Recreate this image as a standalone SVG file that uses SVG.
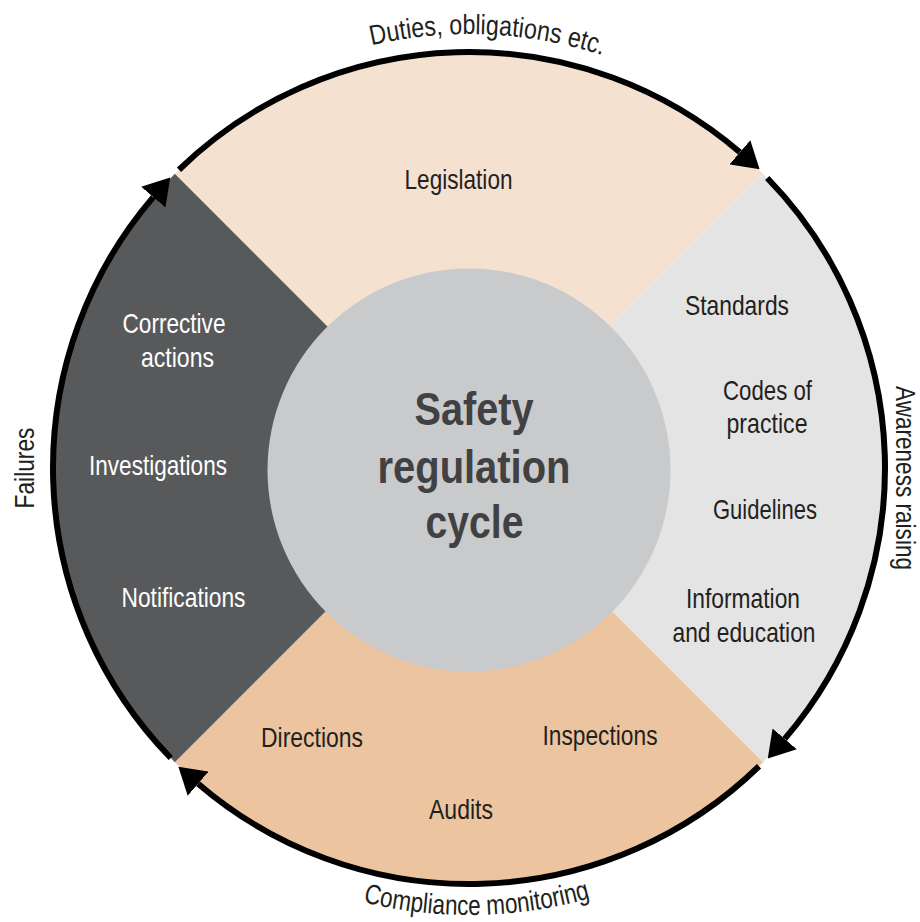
<svg xmlns="http://www.w3.org/2000/svg" width="920" height="922" viewBox="0 0 920 922">
<style>
.t{font-family:"Liberation Sans",Arial,sans-serif;font-size:28px;fill:#231f20;text-anchor:middle}
.w{fill:#ffffff}
.c{font-family:"Liberation Sans",Arial,sans-serif;font-size:47px;font-weight:bold;fill:#414042;text-anchor:middle}
.arc{fill:none;stroke:#000;stroke-width:6;stroke-linecap:butt;marker-end:url(#ah)}
</style>
<defs>
<marker id="ah" markerUnits="userSpaceOnUse" markerWidth="26" markerHeight="32" viewBox="0 0 26 32" refX="0" refY="16" orient="auto">
<path d="M0,0 L26,16 L0,32 Z" fill="#000"/>
</marker>
<path id="topPath" d="M35,468 A434,434 0 0 1 903,468"/>
<path id="botPath" d="M22,468 A447,447 0 0 0 916,468"/>
</defs>
<rect width="920" height="922" fill="#fff"/>

<g id="legislation">
<path d="M469,468 L174.84,173.84 A416,416 0 0 1 763.16,173.84 Z" fill="#f4e1d0"/>
<text class="t" x="458.5" y="189" textLength="108" lengthAdjust="spacingAndGlyphs">Legislation</text>
</g>
<g id="awareness">
<path d="M469,468 L763.16,173.84 A416,416 0 0 1 763.16,762.16 Z" fill="#e4e4e4"/>
<text class="t" x="737" y="315" textLength="104" lengthAdjust="spacingAndGlyphs">Standards</text>
<text class="t" x="767.5" y="400" textLength="89" lengthAdjust="spacingAndGlyphs">Codes of</text>
<text class="t" x="767" y="433" textLength="81" lengthAdjust="spacingAndGlyphs">practice</text>
<text class="t" x="765" y="519" textLength="104" lengthAdjust="spacingAndGlyphs">Guidelines</text>
<text class="t" x="743" y="608" textLength="114" lengthAdjust="spacingAndGlyphs">Information</text>
<text class="t" x="744" y="642" textLength="143" lengthAdjust="spacingAndGlyphs">and education</text>
</g>
<g id="compliance">
<path d="M469,468 L763.16,762.16 A416,416 0 0 1 174.84,762.16 Z" fill="#ecc5a0"/>
<text class="t" x="312" y="747" textLength="102" lengthAdjust="spacingAndGlyphs">Directions</text>
<text class="t" x="600" y="745" textLength="115" lengthAdjust="spacingAndGlyphs">Inspections</text>
<text class="t" x="461" y="819" textLength="64" lengthAdjust="spacingAndGlyphs">Audits</text>
</g>
<g id="failures">
<path d="M469,468 L174.84,762.16 A416,416 0 0 1 174.84,173.84 Z" fill="#58595b"/>
<text class="t w" x="174" y="333" textLength="103" lengthAdjust="spacingAndGlyphs">Corrective</text>
<text class="t w" x="177.5" y="367" textLength="73" lengthAdjust="spacingAndGlyphs">actions</text>
<text class="t w" x="158" y="475" textLength="138" lengthAdjust="spacingAndGlyphs">Investigations</text>
<text class="t w" x="183.5" y="607" textLength="124" lengthAdjust="spacingAndGlyphs">Notifications</text>
</g>
<g id="center">
<circle cx="469" cy="470" r="201.5" fill="#c9cacc"/>
<text class="c" x="474" y="425" textLength="119" lengthAdjust="spacingAndGlyphs">Safety</text>
<text class="c" x="474" y="483" textLength="193" lengthAdjust="spacingAndGlyphs">regulation</text>
<text class="c" x="474.5" y="538" textLength="98" lengthAdjust="spacingAndGlyphs">cycle</text>
</g>

<g id="connectors">
<path class="arc" d="M178.98,169.77 A416,416 0 0 1 739.88,152.29"/>
<path class="arc" d="M767.23,177.98 A416,416 0 0 1 784.71,738.88"/>
<path class="arc" d="M759.02,766.23 A416,416 0 0 1 198.12,783.71"/>
<path class="arc" d="M170.77,758.02 A416,416 0 0 1 153.29,197.12"/>
</g>

<g id="labels">
<text class="t"><textPath href="#topPath" startOffset="700" textLength="234" lengthAdjust="spacingAndGlyphs">Duties, obligations etc.</textPath></text>
<text class="t"><textPath href="#botPath" startOffset="710" textLength="230" lengthAdjust="spacingAndGlyphs">Compliance monitoring</textPath></text>
<text class="t" transform="translate(896,478) rotate(90)" x="0" y="0" textLength="184" lengthAdjust="spacingAndGlyphs">Awareness raising</text>
<text class="t" transform="translate(34,468) rotate(-90)" x="0" y="0" textLength="81" lengthAdjust="spacingAndGlyphs">Failures</text>
</g>
</svg>
